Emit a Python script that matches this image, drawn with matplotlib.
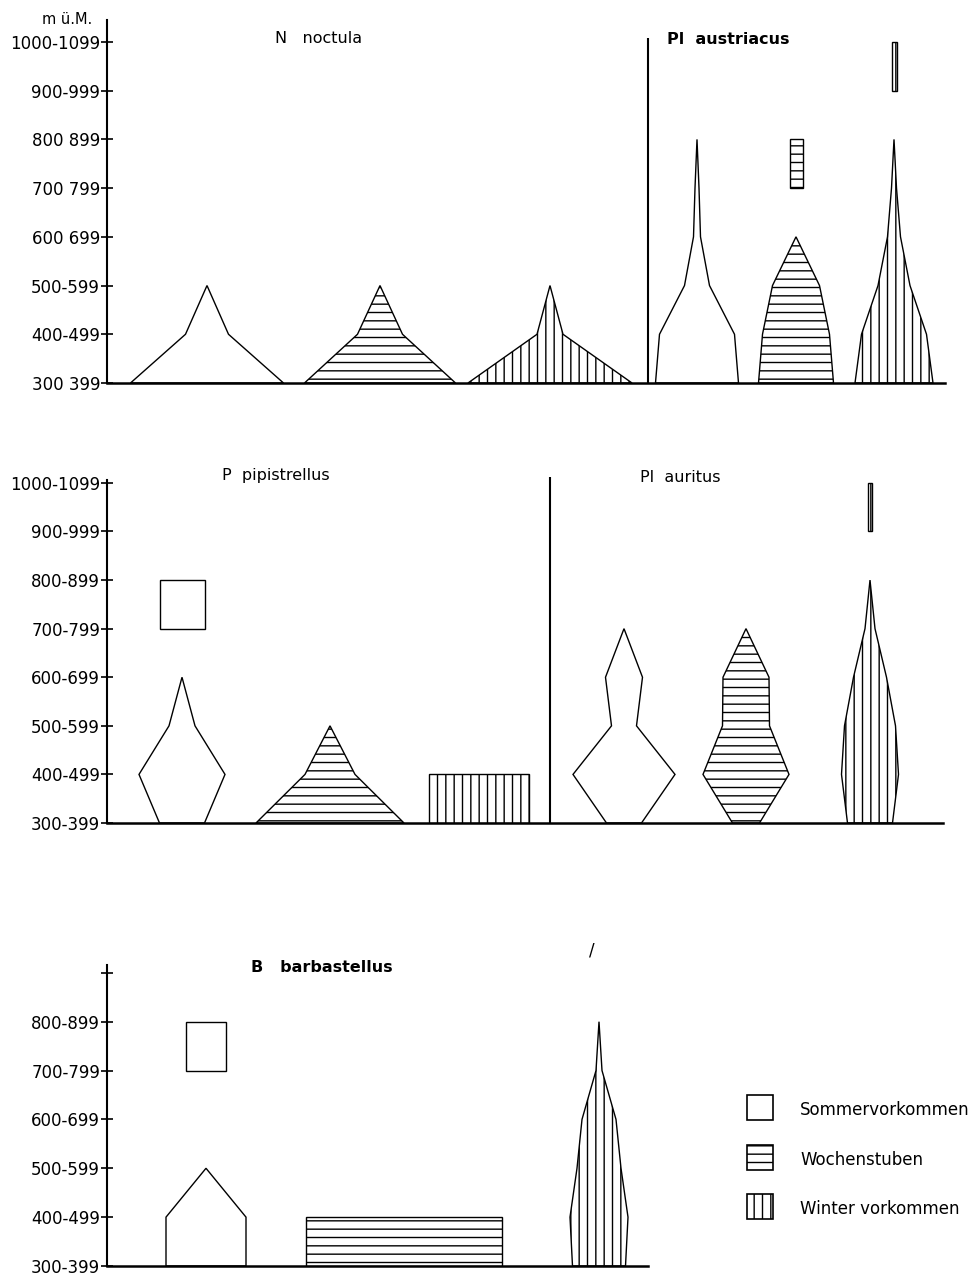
import matplotlib
matplotlib.use("Agg")
import matplotlib.pyplot as plt
from matplotlib.patches import Rectangle

plt.rcParams['font.family'] = ['DejaVu Sans']
plt.rcParams['hatch.linewidth'] = 1.0
plt.rcParams['hatch.color'] = 'black'

# ---------------- data ----------------
levels = ["300-399", "400-499", "500-599", "600-699", "700-799",
          "800-899", "900-999", "1000-1099"]
top_ticklabels = ["300 399", "400-499", "500-599", "600 699", "700 799",
                  "800 899", "900-999", "1000-1099"]
mid_ticklabels = ["300-399", "400-499", "500-599", "600-699", "700-799",
                  "800-899", "900-999", "1000-1099"]
bot_ticklabels = ["300-399", "400-499", "500-599", "600-699", "700-799",
                  "800-899", ""]

categories = ["Sommervorkommen", "Wochenstuben", "Winter vorkommen"]

# kite widths per altitude level, starting at 300-399 (0 = apex)
noctula_sommer = [153, 43, 0]
noctula_woch = [151, 45, 0]
noctula_winter = [164, 26, 0]

austriacus_sommer = [83, 75, 25, 7, 4, 0]
austriacus_woch = [75, 67, 47, 0]
austriacus_woch_blocks = [("700-799", 13)]
austriacus_winter = [78, 65, 32, 13, 5, 0]
austriacus_winter_blocks = [("900-999", 5)]

pipistrellus_sommer = [45, 86, 26, 0]
pipistrellus_sommer_blocks = [("700-799", 45)]
pipistrellus_woch = [148, 50, 0]
pipistrellus_winter = []
pipistrellus_winter_blocks = [("300-399", 100)]

auritus_sommer = [35, 102, 25, 37, 0]
auritus_woch = [27, 86, 47, 46, 0]
auritus_winter = [45, 57, 51, 33, 10, 0]
auritus_winter_blocks = [("900-999", 4)]

barbastellus_sommer = [80, 80, 0]
barbastellus_sommer_blocks = [("700-799", 40)]
barbastellus_woch = []
barbastellus_woch_blocks = [("300-399", 196)]
barbastellus_winter = [53, 58, 44, 34, 6, 0]

# ---------------- styles / layout ----------------
hatches = {"Sommervorkommen": None, "Wochenstuben": "--", "Winter vorkommen": "||"}
W, H = 980, 1277


def draw_kite(ax, center, widths, cat):
    if not widths:
        return
    ys = list(range(len(widths)))
    right = [center + w / 2 for w in widths]
    left = [center - w / 2 for w in widths]
    xs = right + left[::-1]
    yy = ys + ys[::-1]
    ax.fill(xs, yy, facecolor='white', edgecolor='black', linewidth=1.0,
            hatch=hatches[cat], zorder=2)


def draw_blocks(ax, center, blocks, cat):
    for lab, w in blocks:
        ax.bar(center, 1, width=w, bottom=levels.index(lab), align='center',
               facecolor='white', edgecolor='black', linewidth=1.0,
               hatch=hatches[cat], zorder=2)


def make_axes(left_px, right_px, top_px, bottom_px, ymax, ticklabels):
    ax = fig.add_axes([left_px / W, 1 - bottom_px / H,
                       (right_px - left_px) / W, (bottom_px - top_px) / H])
    ax.set_xlim(left_px, right_px)
    ax.set_ylim(0, ymax)
    for s in ("top", "right"):
        ax.spines[s].set_visible(False)
    ax.spines["left"].set_linewidth(1.5)
    ax.spines["bottom"].set_linewidth(1.8)
    ax.set_xticks([])
    ax.set_yticks(range(len(ticklabels)))
    ax.set_yticklabels(ticklabels, fontsize=12)
    ax.tick_params(axis='y', direction='inout', length=8, width=1.2, pad=1)
    ax.patch.set_alpha(0)
    return ax


fig = plt.figure(figsize=(W / 100, H / 100), dpi=100)

# ---- top panel: N. noctula | Pl. austriacus ----
ax1 = make_axes(107, 945, 20, 383, 7.45, top_ticklabels)
top_groups = [
    (207, noctula_sommer, [], categories[0]),
    (380, noctula_woch, [], categories[1]),
    (550, noctula_winter, [], categories[2]),
    (697, austriacus_sommer, [], categories[0]),
    (796, austriacus_woch, austriacus_woch_blocks, categories[1]),
    (894, austriacus_winter, austriacus_winter_blocks, categories[2]),
]
for c, k, b, cat in top_groups:
    draw_kite(ax1, c, k, cat)
    draw_blocks(ax1, c, b, cat)
ax1.vlines(648, 0, 7.08, color='black', linewidth=1.5, clip_on=False)
ax1.text(275, 7.08, "N   noctula", fontsize=11.5, va='center', ha='left')
ax1.text(667, 7.04, "Pl  austriacus", fontsize=11.5, va='center', ha='left',
         fontweight='bold')
fig.text(42 / W, 1 - 20 / H, "m ü.M.", fontsize=10.5, va='center', ha='left')

# ---- middle panel: P. pipistrellus | Pl. auritus ----
ax2 = make_axes(107, 943, 480, 823, 7.06, mid_ticklabels)
mid_groups = [
    (182, pipistrellus_sommer, pipistrellus_sommer_blocks, categories[0]),
    (330, pipistrellus_woch, [], categories[1]),
    (479, pipistrellus_winter, pipistrellus_winter_blocks, categories[2]),
    (624, auritus_sommer, [], categories[0]),
    (746, auritus_woch, [], categories[1]),
    (870, auritus_winter, auritus_winter_blocks, categories[2]),
]
for c, k, b, cat in mid_groups:
    draw_kite(ax2, c, k, cat)
    draw_blocks(ax2, c, b, cat)
ax2.vlines(550, 0, 7.12, color='black', linewidth=1.5, clip_on=False)
ax2.text(222, 7.16, "P  pipistrellus", fontsize=11.5, va='center', ha='left')
ax2.text(640, 7.12, "Pl  auritus", fontsize=11.5, va='center', ha='left')

# ---- bottom panel: B. barbastellus ----
ax3 = make_axes(107, 648, 965, 1266, 6.16, bot_ticklabels)
bot_groups = [
    (206, barbastellus_sommer, barbastellus_sommer_blocks, categories[0]),
    (404, barbastellus_woch, barbastellus_woch_blocks, categories[1]),
    (599, barbastellus_winter, [], categories[2]),
]
for c, k, b, cat in bot_groups:
    draw_kite(ax3, c, k, cat)
    draw_blocks(ax3, c, b, cat)
ax3.text(251, 6.11, "B   barbastellus", fontsize=11.5, va='center', ha='left',
         fontweight='bold')
ax3.text(592, 6.46, "/", fontsize=12, va='center', ha='center')

# ---- legend (key boxes with labels) ----
lax = fig.add_axes([0, 0, 1, 1])
lax.set_xlim(0, W)
lax.set_ylim(H, 0)
lax.axis('off')
lax.patch.set_alpha(0)
key_rows = [1095, 1145, 1194]
for row, cat in zip(key_rows, categories):
    lax.add_patch(Rectangle((747, row), 26, 25, facecolor='white',
                            edgecolor='black', linewidth=1.2,
                            hatch=hatches[cat]))
    lax.text(800, row + 15, cat, fontsize=12, va='center', ha='left')

fig.savefig("out.png", dpi=100)
